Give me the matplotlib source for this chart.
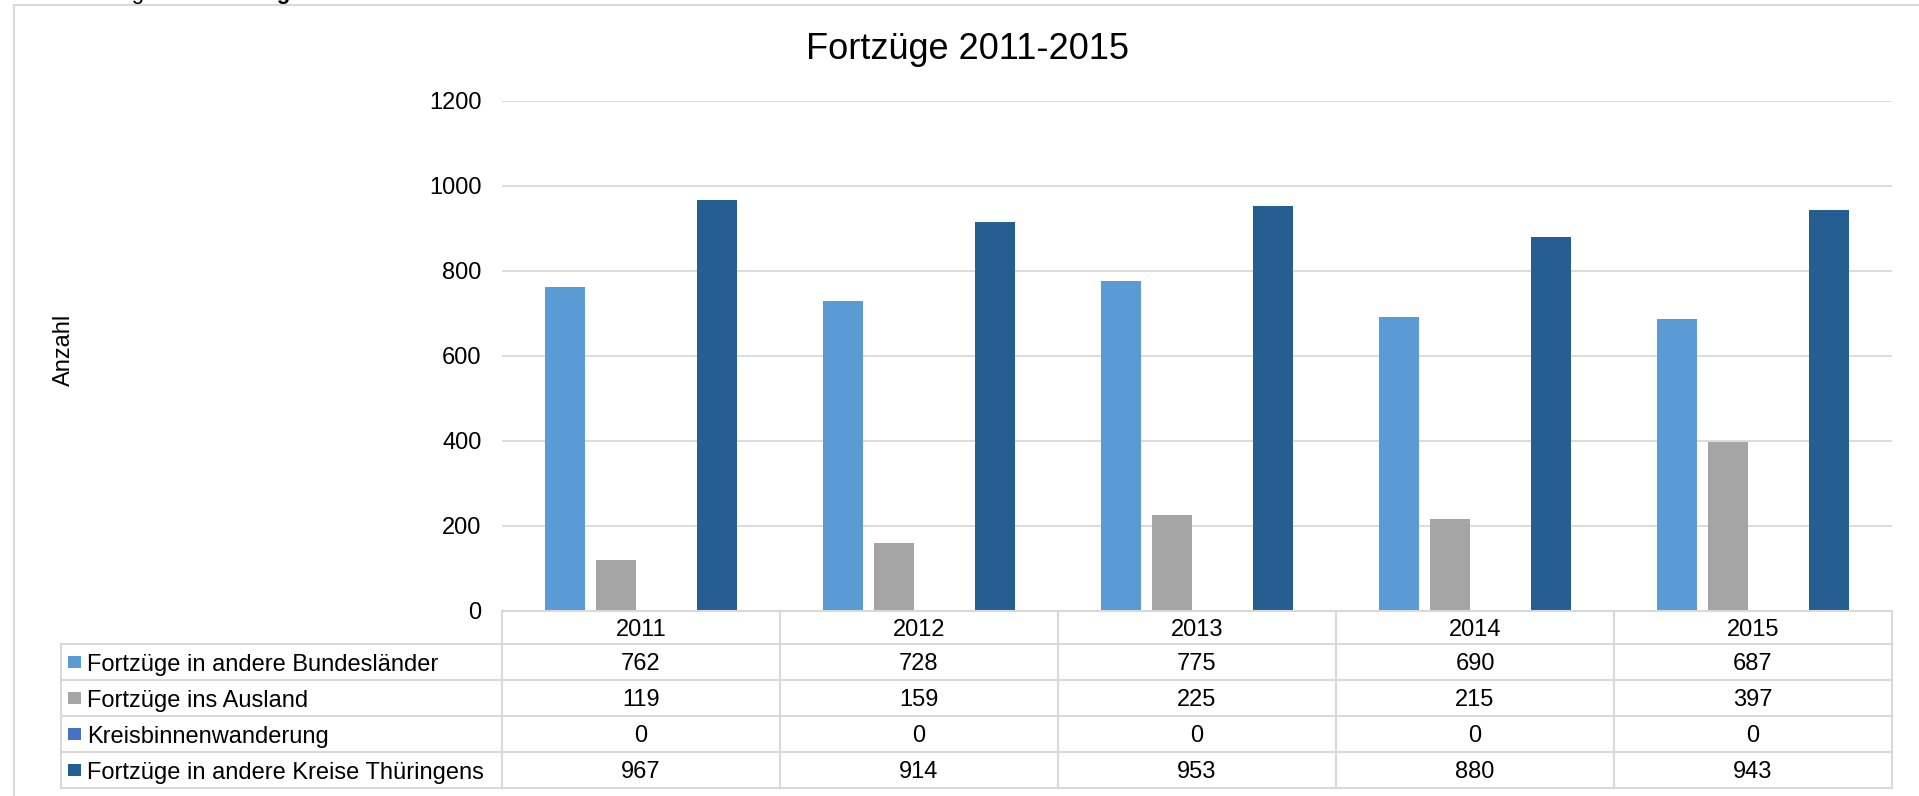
import matplotlib
matplotlib.use("Agg")
import matplotlib.pyplot as plt
import matplotlib.transforms as mtransforms
import numpy as np
from matplotlib.lines import Line2D
from matplotlib.patches import Rectangle

plt.rcParams["font.family"] = ["Liberation Sans", "DejaVu Sans"]

# --- data ---
years = ["2011", "2012", "2013", "2014", "2015"]
series_names = [
    "Fortzüge in andere Bundesländer",
    "Fortzüge ins Ausland",
    "Kreisbinnenwanderung",
    "Fortzüge in andere Kreise Thüringens",
]
bundeslaender = [762, 728, 775, 690, 687]
ausland = [119, 159, 225, 215, 397]
kreisbinnen = [0, 0, 0, 0, 0]
thueringen = [967, 914, 953, 880, 943]
series_values = [bundeslaender, ausland, kreisbinnen, thueringen]
series_colors = ["#5B9BD5", "#A5A5A5", "#4472C4", "#255E91"]
y_ticks = [0, 200, 400, 600, 800, 1000, 1200]

W, H = 1919, 796
GRID = "#D9D9D9"
FS = 17


def fx(px):
    return px / W


def fy(px):
    return 1 - px / H


fig = plt.figure(figsize=(W / 100, H / 100), dpi=100)
fig.patch.set_facecolor("white")

# outer frame (left and top only are visible)
fig.add_artist(Line2D([fx(14), fx(14)], [fy(5), fy(H)], color=GRID, lw=1.5, transform=fig.transFigure))
fig.add_artist(Line2D([fx(14), 1], [fy(5), fy(5)], color=GRID, lw=1.5, transform=fig.transFigure))

# text from the page above, only descenders visible
fig.text(fx(45), fy(-1.5), "Abbildung 10:", fontsize=16, va="baseline", ha="left")
fig.text(fx(209), fy(-1.5), "Fortzüge", fontsize=16, fontweight="bold", va="baseline", ha="left")

ax_left, ax_right, ax_top, ax_bottom = 502, 1892, 100.7, 610.7
ax = fig.add_axes([fx(ax_left), fy(ax_bottom), fx(ax_right) - fx(ax_left), fy(ax_top) - fy(ax_bottom)])

x = np.arange(len(years))
slot = 0.182
bar_w = 0.145
for i, (vals, col) in enumerate(zip(series_values, series_colors)):
    ax.bar(x + (i - 1.5) * slot, vals, width=bar_w, color=col, zorder=3)

ax.set_xlim(-0.5, len(years) - 0.5)
ax.set_ylim(0, 1200)
ax.set_yticks(y_ticks)
ax.set_yticklabels([str(t) for t in y_ticks], fontsize=FS)
ax.set_xticks([])
ax.tick_params(axis="y", length=0, pad=14.6)
for s in ax.spines.values():
    s.set_visible(False)
ax.grid(axis="y", color=GRID, linewidth=1.3)
ax.set_axisbelow(True)

fig.text(fx(967.5), fy(59.3), "Fortzüge 2011-2015", fontsize=26, ha="center", va="baseline")
fig.text(fx(64), fy(350), "Anzahl", fontsize=FS, rotation=90, ha="center", va="center")

# --- data table below the plot ---
blend = mtransforms.blended_transform_factory(ax.transData, fig.transFigure)
header_top, header_bot = 611, 644
row_edges = [644, 680, 716, 752, 788]
label_left = 61
tlw = 1.5
base_off = 8.5

# horizontal lines
fig.add_artist(Line2D([-0.5, len(years) - 0.5], [fy(header_top)] * 2, color=GRID, lw=tlw, transform=blend))
for ry in row_edges:
    fig.add_artist(Line2D([fx(label_left), fx(ax_left)], [fy(ry)] * 2, color=GRID, lw=tlw, transform=fig.transFigure))
    fig.add_artist(Line2D([-0.5, len(years) - 0.5], [fy(ry)] * 2, color=GRID, lw=tlw, transform=blend))
# vertical lines
fig.add_artist(Line2D([fx(label_left)] * 2, [fy(row_edges[0]), fy(row_edges[-1])], color=GRID, lw=tlw,
                      transform=fig.transFigure))
for b in np.arange(len(years) + 1) - 0.5:
    fig.add_artist(Line2D([b, b], [fy(header_top), fy(row_edges[-1])], color=GRID, lw=tlw, transform=blend))

# header row: years
for i, yr in enumerate(years):
    fig.text(i, fy((header_top + header_bot) / 2 + base_off), yr, fontsize=FS, ha="center", va="baseline",
             transform=blend)

# data rows
for r, (name, vals, col) in enumerate(zip(series_names, series_values, series_colors)):
    cy = (row_edges[r] + row_edges[r + 1]) / 2
    sq = 12.7
    fig.add_artist(Rectangle((fx(68), fy(cy + sq / 2)), fx(sq), sq / H, facecolor=col, edgecolor="none",
                             transform=fig.transFigure))
    fig.text(fx(86.7), fy(cy + base_off), name, fontsize=FS, ha="left", va="baseline")
    for i, v in enumerate(vals):
        fig.text(i, fy(cy + base_off), str(v), fontsize=FS, ha="center", va="baseline", transform=blend)

fig.savefig("out.png", dpi=100)
